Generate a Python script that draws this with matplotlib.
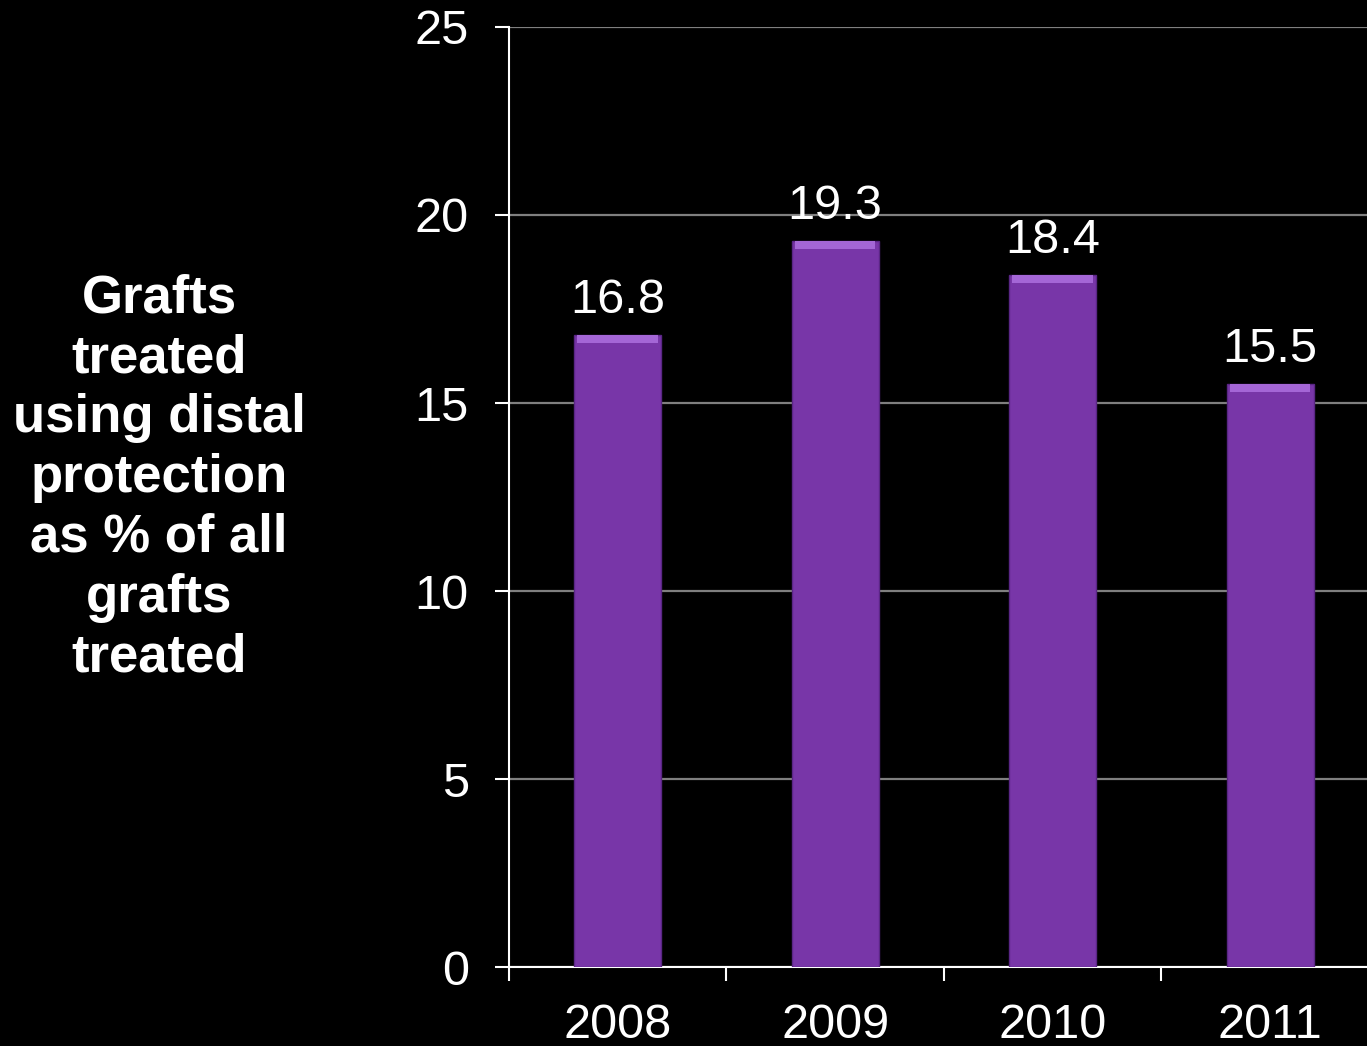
import matplotlib.pyplot as plt
import numpy as np

# ------------------------------
# DATA
# ------------------------------
years = ["2008", "2009", "2010", "2011"]
pct_values = [16.8, 19.3, 18.4, 15.5]
y_ticks = [0, 5, 10, 15, 20, 25]
y_title = "Grafts\ntreated\nusing distal\nprotection\nas % of all\ngrafts\ntreated"

plt.rcParams["font.family"] = ["Liberation Sans", "DejaVu Sans"]

BAR = "#7836a8"
BAR_TOP = "#a466d6"

fig = plt.figure(figsize=(13.67, 10.46), dpi=100, facecolor="black")
ax = fig.add_axes([0.3723, 0.0755, 0.6364, 0.8987], facecolor="black")

x = np.arange(len(years))
ax.bar(x, pct_values, width=0.4, color=BAR, edgecolor="#5a2685", linewidth=1, zorder=3)
# light bevel strip on the top of each bar
ax.bar(x, [0.2] * len(x), bottom=np.array(pct_values) - 0.2, width=0.37,
       color=BAR_TOP, linewidth=0, zorder=4)

for xi, v in zip(x, pct_values):
    ax.annotate(f"{v}", (xi, v), xytext=(0, 9), textcoords="offset points",
                ha="center", va="bottom", color="white", fontsize=35)

ax.set_xlim(-0.5, len(years) - 0.5)
ax.set_ylim(0, 25)
ax.set_yticks(y_ticks)
ax.set_yticklabels([str(t) for t in y_ticks])
ax.yaxis.grid(True, color="#7f7f7f", linewidth=1.6, zorder=0)
ax.set_axisbelow(True)

# categories in the middle, tick marks at the boundaries
ax.set_xticks(x)
ax.set_xticklabels(years)
ax.set_xticks(np.arange(-0.5, len(years) + 0.5, 1), minor=True)
ax.tick_params(axis="x", which="major", length=0, pad=26, labelsize=35, colors="white")
ax.tick_params(axis="x", which="minor", length=10, width=1.5, color="white", direction="out")
ax.tick_params(axis="y", length=10, width=1.5, colors="white", labelsize=35, pad=19)

for s in ["top", "right"]:
    ax.spines[s].set_visible(False)
for s in ["left", "bottom"]:
    ax.spines[s].set_color("white")
    ax.spines[s].set_linewidth(1.5)

fig.text(0.1163, 0.543, y_title, ha="center", va="center", color="white",
         fontsize=38, fontweight="bold", linespacing=1.25)

fig.savefig("out.png", dpi=100, facecolor="black")
